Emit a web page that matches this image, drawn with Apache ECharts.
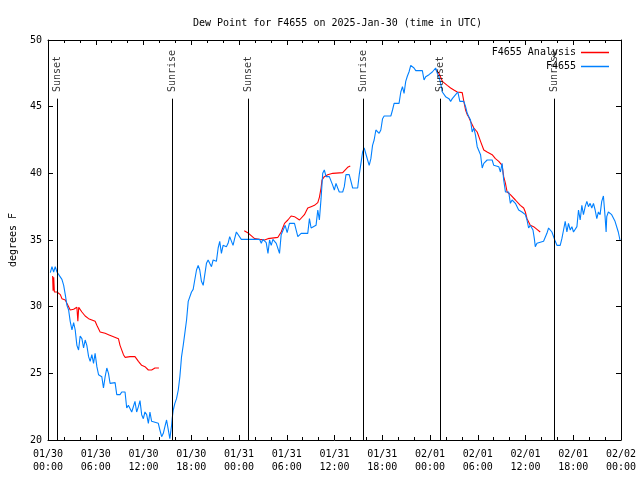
<!DOCTYPE html>
<html>
<head>
<meta charset="utf-8">
<script src="https://cdn.jsdelivr.net/npm/echarts@6/dist/echarts.min.js"></script>
<style>html,body{margin:0;padding:0;background:#fff}#c{width:640px;height:480px}</style>
</head>
<body>
<div id="c"></div>
<script>
// hours since 2025-01-30 00:00 UTC
const xTickLabels = ['01/30\n00:00','01/30\n06:00','01/30\n12:00','01/30\n18:00','01/31\n00:00','01/31\n06:00','01/31\n12:00','01/31\n18:00','02/01\n00:00','02/01\n06:00','02/01\n12:00','02/01\n18:00','02/02\n00:00'];
const yTicks = [20,25,30,35,40,45,50];

const obsHours = [0.29,0.50,0.71,0.91,1.13,1.34,1.75,1.97,2.17,2.38,2.59,2.79,3.01,3.22,3.42,3.63,3.84,4.04,4.26,4.47,4.67,4.88,5.10,5.30,5.51,5.72,5.92,6.14,6.35,6.76,6.97,7.18,7.39,7.60,7.80,8.01,8.43,8.64,9.05,9.27,9.68,9.89,10.10,10.31,10.52,10.73,10.93,11.14,11.36,11.56,11.77,11.98,12.18,12.40,12.61,12.81,13.02,13.24,13.86,14.06,14.28,14.49,14.69,14.90,15.11,15.31,15.53,15.61,15.74,15.94,16.15,16.37,16.57,16.78,16.99,17.19,17.41,17.62,17.82,18.03,18.24,18.44,18.66,18.87,19.07,19.28,19.50,19.70,19.91,20.12,20.32,20.54,20.75,20.95,21.16,21.38,21.58,21.79,22.00,22.20,22.41,22.63,22.83,23.04,23.25,23.45,23.67,23.88,24.29,26.58,26.80,27.01,27.42,27.64,27.84,28.05,28.26,28.68,29.09,29.30,29.51,29.80,30.05,30.34,30.97,31.39,31.81,32.64,32.85,33.06,33.27,33.68,33.90,34.10,34.31,34.52,34.72,34.94,35.35,35.78,35.98,36.19,36.40,36.60,37.03,37.23,37.44,37.85,38.07,38.28,38.91,39.11,39.32,39.53,39.73,39.94,40.16,40.36,40.57,40.78,40.98,41.20,41.41,41.61,41.82,42.04,42.24,43.08,43.29,43.49,44.11,44.33,44.54,44.74,44.95,45.16,45.36,45.58,45.79,45.99,46.21,47.04,47.25,47.46,47.87,48.29,48.71,48.92,49.12,49.34,49.55,49.96,50.38,50.59,50.80,51.22,51.50,51.75,52.25,52.47,52.68,52.88,53.09,53.30,53.51,53.72,53.93,54.13,54.35,54.56,54.76,54.97,55.18,55.81,56.01,56.64,56.85,57.06,57.26,57.48,57.69,57.89,58.10,58.31,58.73,58.94,59.14,59.35,59.56,59.77,59.98,60.19,60.39,60.60,60.94,61.11,61.23,61.44,61.64,62.27,62.48,62.69,62.90,63.32,63.52,63.74,63.95,64.36,64.57,64.78,64.99,65.20,65.40,65.62,65.83,66.03,66.24,66.46,66.66,66.87,67.08,67.28,67.50,67.71,67.91,68.12,68.33,68.54,68.75,68.96,69.16,69.37,69.58,69.79,70.00,70.13,70.21,70.41,70.83,71.04,71.25,71.46,71.66,71.87];
const obsDew = [32.55,33.0,32.6,33.0,32.6,32.5,32.05,31.6,30.9,30.1,29.75,28.9,28.25,28.8,28.25,27.1,26.75,27.8,27.6,26.9,27.5,27.1,26.25,25.9,26.4,25.75,26.5,25.5,24.9,24.75,23.9,24.75,25.4,25.0,24.25,24.3,24.3,23.4,23.4,23.6,23.6,22.4,22.6,22.6,22.1,22.0,22.9,22.1,22.5,22.95,21.9,21.6,22.1,21.9,21.25,22.1,21.4,21.25,21.25,20.75,20.25,20.5,21.0,21.5,21.5,20.1,21.1,21.65,22.25,22.75,23.1,23.75,24.75,26.25,27.1,28.0,29.0,30.4,30.5,31.1,31.3,32.0,32.75,33.1,32.75,31.9,31.6,32.4,33.25,33.5,33.25,33.0,33.5,33.6,33.4,34.4,34.9,34.0,34.6,34.6,34.5,34.75,35.25,35.4,34.6,35.1,35.6,35.5,35.05,35.05,34.75,35.05,34.8,34.0,35.0,34.6,35.05,34.75,34.0,35.4,35.5,36.1,35.55,36.25,36.25,35.25,35.5,35.5,36.6,35.9,36.0,36.1,37.25,36.5,38.1,40.0,40.25,39.75,39.75,39.1,38.75,39.25,38.9,38.6,38.6,39.0,39.9,39.9,39.4,38.9,38.9,39.9,40.75,41.6,41.9,41.75,41.0,40.6,41.1,42.1,42.5,43.25,43.3,43.0,43.25,44.1,44.3,44.3,44.75,45.25,45.25,46.1,46.5,46.0,46.9,47.3,47.6,48.1,48.2,47.9,47.7,47.7,47.0,47.25,47.4,47.6,47.9,47.5,47.25,46.75,46.1,45.75,45.6,45.4,45.6,45.9,46.1,45.4,45.4,45.0,44.5,44.25,44.0,43.1,43.4,42.85,42.0,41.9,41.4,40.4,40.75,40.6,41.0,41.0,40.6,40.5,40.1,40.75,39.5,38.6,38.75,38.6,37.75,38.0,37.75,37.9,37.25,37.4,37.1,37.25,36.9,36.5,35.9,36.1,35.75,35.1,34.5,34.75,34.9,34.9,34.95,35.5,35.9,35.6,35.6,34.9,34.6,34.6,35.1,35.75,36.4,35.6,36.25,35.75,36.0,35.6,35.6,36.0,37.25,36.5,37.6,36.9,37.5,37.9,37.5,37.75,37.4,37.75,37.25,36.6,37.1,36.9,37.9,38.3,36.75,35.6,36.75,37.1,36.9,36.75,36.4,36.4,35.6,35.0];

// analysis (null = gap between runs)
const anaHours = [0.58,0.64,0.72,0.80,1.13,1.55,1.75,2.17,2.59,2.79,3.22,3.63,3.75,3.86,4.26,4.67,5.10,5.92,6.14,6.55,7.18,7.60,8.23,8.85,9.05,9.48,9.68,10.31,10.93,11.36,11.77,12.18,12.61,13.02,13.44,13.94,
  19.0,
  24.66,25.09,25.30,25.96,26.58,27.21,27.64,28.89,29.30,29.72,30.14,30.55,30.97,31.60,31.81,32.22,32.64,33.06,33.48,33.90,34.10,34.31,34.43,34.72,35.15,35.78,37.03,37.23,37.65,37.98,
  43.0,
  48.71,49.12,49.34,49.55,49.76,50.17,50.59,51.00,51.42,52.05,52.25,52.47,52.68,52.88,53.09,53.51,53.93,54.35,54.76,55.18,55.81,56.22,56.64,57.06,57.26,57.48,57.69,58.10,58.73,59.35,59.77,59.98,60.19,60.60,61.02,61.44,61.85];
const anaDew = [32.3,31.2,32.2,31.1,31.1,30.9,30.6,30.5,30.0,29.75,29.8,29.95,28.9,29.95,29.6,29.3,29.1,28.9,28.6,28.1,28.0,27.9,27.75,27.6,27.1,26.4,26.2,26.25,26.25,25.9,25.6,25.5,25.25,25.25,25.4,25.4,
  null,
  35.7,35.55,35.4,35.1,35.05,35.0,35.1,35.2,35.6,36.25,36.5,36.8,36.75,36.5,36.5,36.9,37.4,37.5,37.6,37.8,38.2,38.9,39.5,39.75,39.9,40.0,40.05,40.1,40.45,40.55,
  null,
  47.8,47.5,47.2,46.9,46.8,46.6,46.4,46.25,46.1,46.05,45.4,44.75,44.4,44.2,43.9,43.4,43.1,42.4,41.75,41.6,41.4,41.1,40.9,40.6,39.75,39.25,38.6,38.4,38.0,37.6,37.4,37.1,36.6,36.1,36.0,35.8,35.6];

const eventHours = [1.13, 15.65, 25.2, 39.6, 49.25, 63.65];
const eventNames = ['Sunset','Sunrise','Sunset','Sunrise','Sunset','Sunrise'];
const eventLineTop = 45.6;
const eventLabelAt = 46.1;

const FONT = '"DejaVu Sans Mono", "Liberation Mono", monospace';
const obsData = obsHours.map((h,i)=>[h, obsDew[i]]);
const anaData = anaHours.map((h,i)=>[h, anaDew[i]]);

const chart = echarts.init(document.getElementById('c'), null, {renderer:'canvas'});
const axisCommon = {
  type:'value', min:0, max:72, interval:6,
  axisLine:{show:true, onZero:false, lineStyle:{color:'#000', width:1}},
  axisTick:{show:true, inside:true, length:5, lineStyle:{color:'#000'}},
  minorTick:{show:true, splitNumber:3, length:3, lineStyle:{color:'#000'}},
  splitLine:{show:false}
};
const yCommon = {
  type:'value', min:20, max:50, interval:5,
  axisLine:{show:true, onZero:false, lineStyle:{color:'#000', width:1}},
  axisTick:{show:true, inside:true, length:5, lineStyle:{color:'#000'}},
  splitLine:{show:false}
};
chart.setOption({
  animation:false,
  backgroundColor:'#fff',
  textStyle:{fontFamily:FONT},
  title:{text:'Dew Point for F4655 on 2025-Jan-30 (time in UTC)', left:188, top:13,
    textStyle:{fontFamily:FONT, fontSize:10, fontWeight:'normal', color:'#000'}},
  grid:{left:46, right:19, top:40, bottom:40},
  legend:{orient:'vertical', right:26, top:42, align:'right', icon:'rect', itemWidth:28, itemHeight:1.5, itemGap:3,
    textStyle:{fontFamily:FONT, fontSize:10, color:'#000', padding:[0,0,0,0], lineHeight:11},
    data:[{name:'F4655 Analysis', icon:'rect'},{name:'F4655', icon:'rect'}]},
  xAxis:[
    Object.assign({}, axisCommon, {position:'bottom',
      axisLabel:{show:true, fontFamily:FONT, fontSize:10, color:'#000', lineHeight:13, margin:8,
        formatter:(v)=>xTickLabels[Math.round(v/6)] || ''}}),
    Object.assign({}, axisCommon, {position:'top', axisLabel:{show:false}})
  ],
  yAxis:[
    Object.assign({}, yCommon, {position:'left', name:'degrees F', nameLocation:'middle', nameGap:30,
      nameTextStyle:{fontFamily:FONT, fontSize:10, color:'#000'},
      axisLabel:{show:true, fontFamily:FONT, fontSize:10, color:'#000', margin:6,
        formatter:(v)=> yTicks.includes(v) ? String(v) : ''}}),
    Object.assign({}, yCommon, {position:'right', axisLabel:{show:false}})
  ],
  series:[
    {name:'F4655 Analysis', type:'line', data:anaData, showSymbol:false, symbol:'none', connectNulls:false,
      lineStyle:{color:'#ff0000', width:1.1}, itemStyle:{color:'#ff0000'}, z:3},
    {name:'F4655', type:'line', data:obsData, showSymbol:false, symbol:'none',
      lineStyle:{color:'#0080ff', width:1.1}, itemStyle:{color:'#0080ff'}, z:4},
    {name:'events', type:'scatter', symbolSize:0, z:5,
      data:eventHours.map((h,i)=>[h, eventLabelAt, eventNames[i]]),
      label:{show:true, position:'inside', rotate:90, align:'left', verticalAlign:'middle',
        fontFamily:FONT, fontSize:10, color:'#000', formatter:(p)=>p.data[2]},
      markLine:{silent:true, symbol:'none', animation:false,
        lineStyle:{color:'#000', width:1, type:'solid'}, label:{show:false},
        data:eventHours.map(h=>[{coord:[h,20]},{coord:[h,eventLineTop]}])}
    }
  ]
});
</script>
</body>
</html>
